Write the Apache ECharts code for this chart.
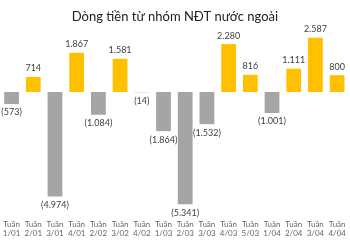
<!DOCTYPE html>
<html><head><meta charset="utf-8">
<script src="https://cdn.jsdelivr.net/npm/echarts@6/dist/echarts.min.js"></script>
<style>html,body{margin:0;padding:0;background:#fff}#c{width:350px;height:250px}</style>
</head><body><div id="c"></div>
<script>
const categories = ['Tuần\n1/01','Tuần\n2/01','Tuần\n3/01','Tuần\n4/01','Tuần\n2/02','Tuần\n3/02','Tuần\n4/02','Tuần\n1/03','Tuần\n2/03','Tuần\n3/03','Tuần\n4/03','Tuần\n5/03','Tuần\n1/04','Tuần\n2/04','Tuần\n3/04','Tuần\n4/04'];
const values = [-573, 714, -4974, 1867, -1084, 1581, -14, -1864, -5341, -1532, 2280, 816, -1001, 1111, 2587, 800];
const titleText = 'Dòng tiền từ nhóm NĐT nước ngoài';

function fmt(v){
  const s = Math.abs(v).toString().replace(/\B(?=(\d{3})+(?!\d))/g, '.');
  return v < 0 ? '(' + s + ')' : s;
}
const pos = values.map(v => v >= 0 ? v : '-');
const neg = values.map(v => v < 0 ? v : '-');
const font = 'Lato';
const chart = echarts.init(document.getElementById('c'), null, {renderer:'canvas'});
chart.setOption({
  animation:false,
  title:{text:titleText,left:'center',top:5,textStyle:{fontFamily:font,fontSize:13,fontWeight:'normal',color:'#222'}},
  grid:{left:-6,right:2,top:29,height:189,containLabel:false},
  xAxis:{type:'category',data:categories,axisLine:{show:false,onZero:false},axisTick:{show:false},
    axisLabel:{interval:0,fontFamily:font,fontSize:8,color:'#666',lineHeight:9,margin:2}},
  yAxis:{type:'value',min:-6000,max:3000,show:false,splitLine:{show:false}},
  series:[
    {type:'bar',stack:'a',data:pos,barCategoryGap:'32%',itemStyle:{color:'#FFC000'},
     label:{show:true,position:'top',distance:4,formatter:p=>fmt(p.value),fontFamily:font,fontSize:9,color:'#404040'}},
    {type:'bar',stack:'a',data:neg,barCategoryGap:'32%',itemStyle:{color:'#A5A5A5'},
     label:{show:true,position:'bottom',distance:4,formatter:p=>fmt(p.value),fontFamily:font,fontSize:9,color:'#404040'}}
  ]
});
</script></body></html>
